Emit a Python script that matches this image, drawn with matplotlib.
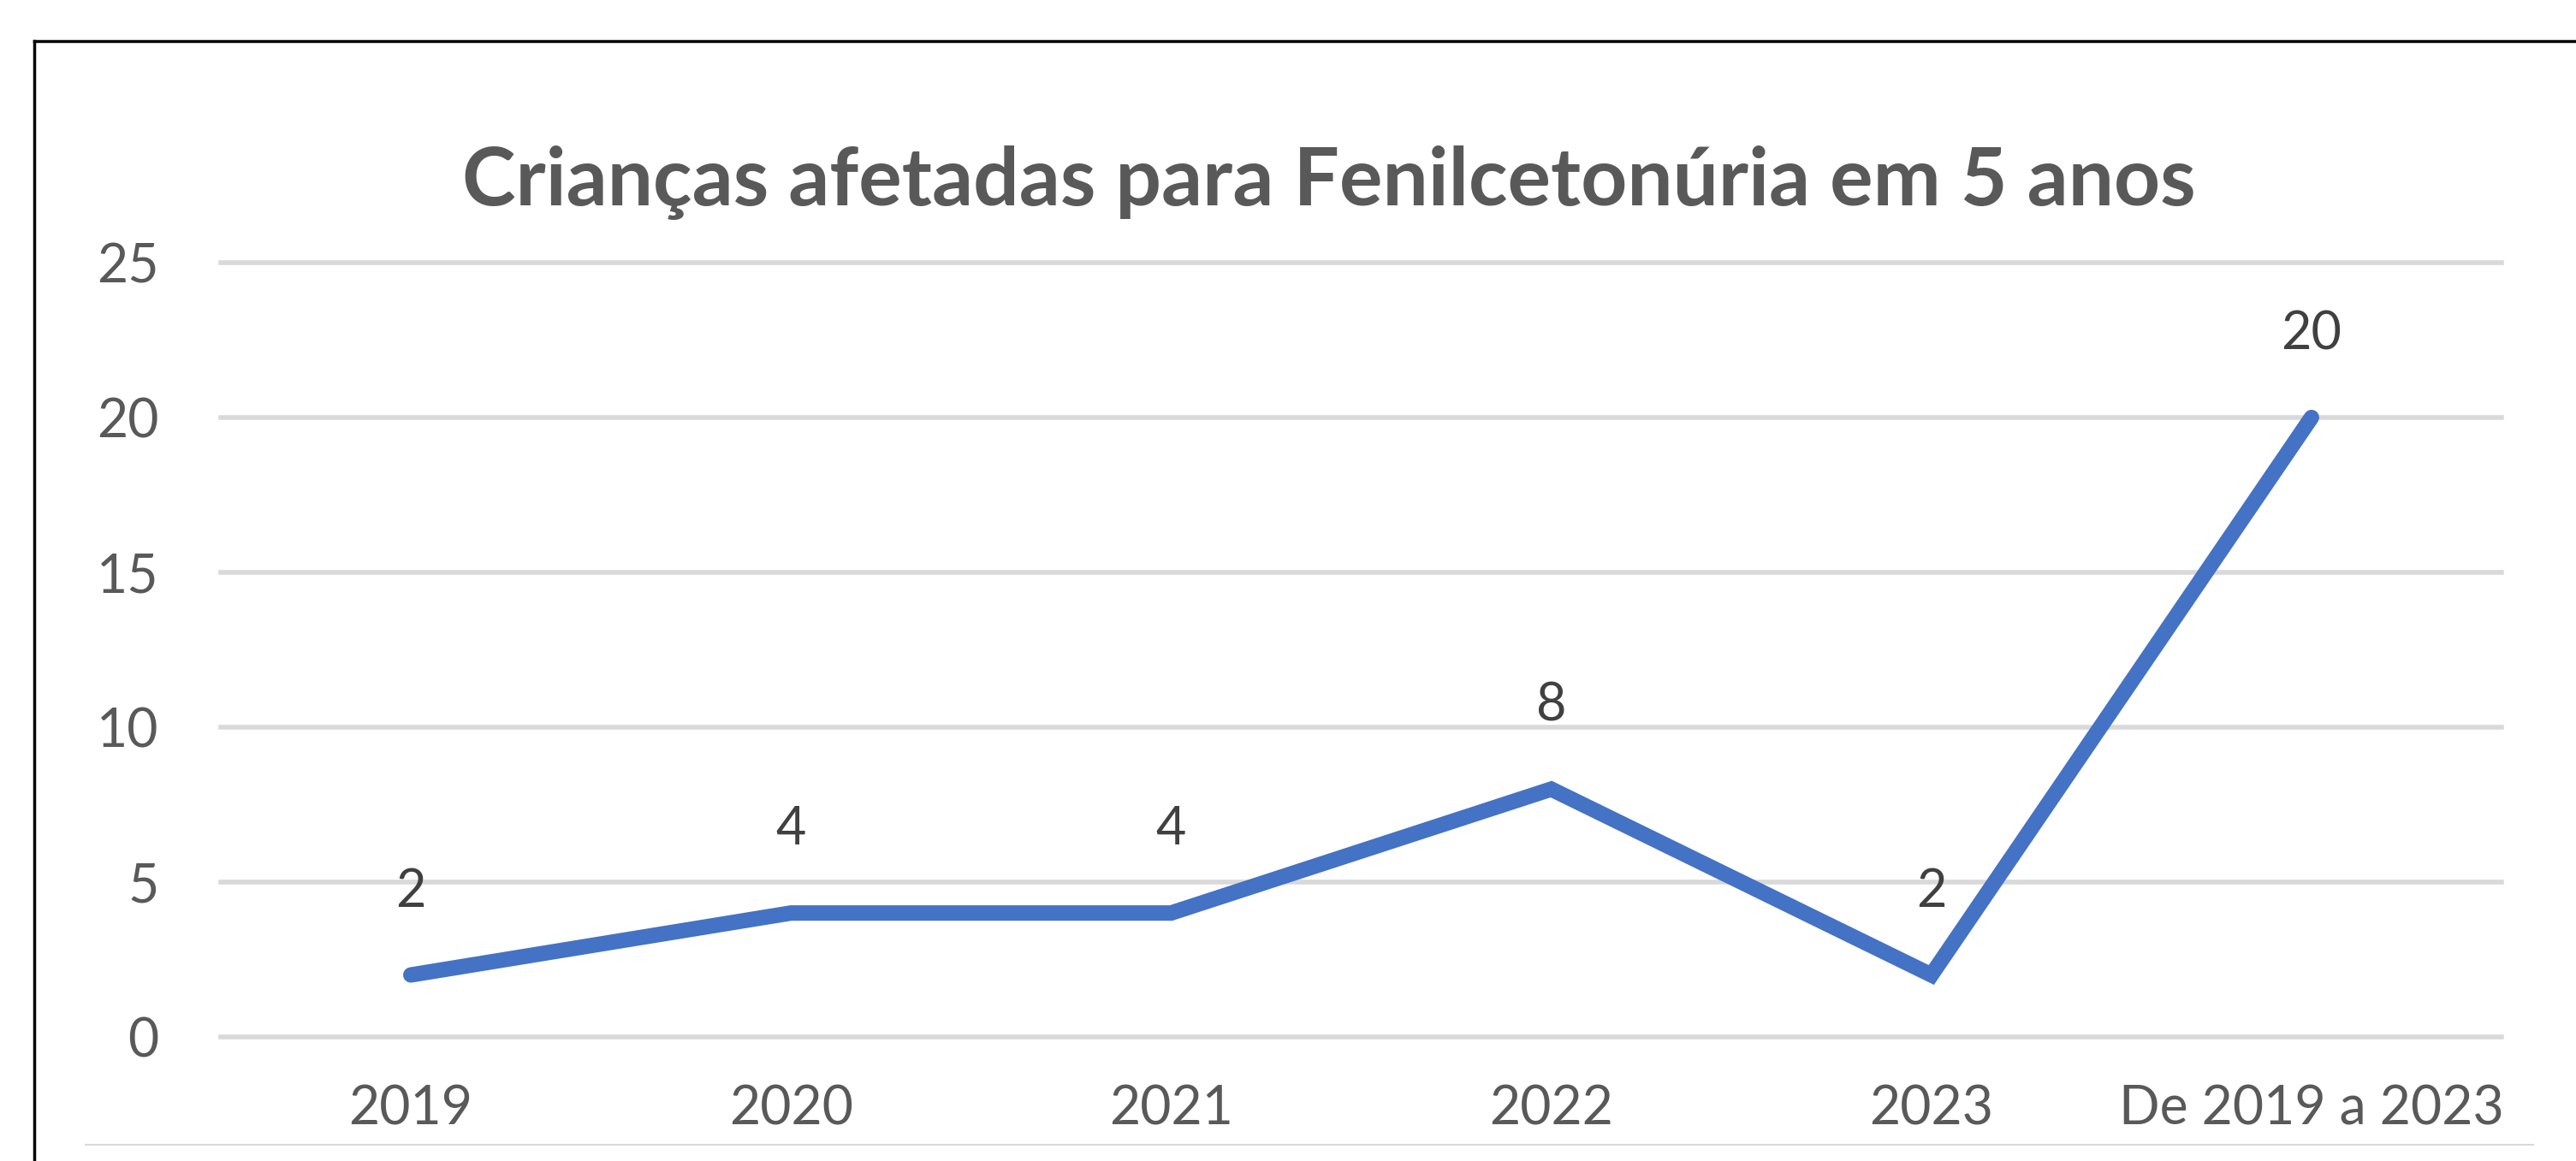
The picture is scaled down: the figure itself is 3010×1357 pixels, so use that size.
import matplotlib.pyplot as plt
from matplotlib.lines import Line2D

plt.rcParams['font.family'] = ['Lato', 'DejaVu Sans']

categorias = ['2019', '2020', '2021', '2022', '2023', 'De 2019 a 2023']
criancas = [2, 4, 4, 8, 2, 20]
y_ticks = [0, 5, 10, 15, 20, 25]

fig = plt.figure(figsize=(30.1, 13.57), dpi=100)
ax = fig.add_axes([0.0857, 0.1069, 0.9711 - 0.0857, 0.7738 - 0.1069])

x = list(range(len(categorias)))
ax.plot(x, criancas, color='#4472C4', linewidth=13,
        solid_capstyle='round', solid_joinstyle='miter', zorder=3)

for xi, v in zip(x, criancas):
    ax.annotate(str(v), (xi, v), xytext=(0, 70), textcoords='offset points',
                ha='center', va='center', fontsize=44, color='#404040')

ax.set_xlim(-0.5, len(categorias) - 0.5)
ax.set_ylim(0, 25)
ax.set_yticks(y_ticks)
ax.set_xticks(x)
ax.set_xticklabels(categorias)
for yt in y_ticks:
    ax.axhline(yt, color='#d9d9d9', linewidth=4, clip_on=False, zorder=1)

for s in ax.spines.values():
    s.set_visible(False)
ax.tick_params(axis='y', length=0, pad=52, labelsize=45, labelcolor='#595959')
ax.tick_params(axis='x', length=0, pad=40, labelsize=45, labelcolor='#595959')

fig.text(0.516, 1 - 240 / 1357, 'Crianças afetadas para Fenilcetonúria em 5 anos',
         ha='center', va='baseline', fontsize=68, fontweight='bold', color='#595959')

# moldura e linha inferior
W, H = 3010, 1357
fig.add_artist(Line2D([40 / W, 40 / W], [0, 1 - 48 / H], color='black', linewidth=2.5,
                      transform=fig.transFigure))
fig.add_artist(Line2D([40 / W, 1], [1 - 48 / H, 1 - 48 / H], color='black', linewidth=2.5,
                      transform=fig.transFigure))
fig.add_artist(Line2D([100 / W, 2960 / W], [1 - 1338 / H, 1 - 1338 / H], color='#d9d9d9',
                      linewidth=1.5, transform=fig.transFigure))

fig.savefig('out.png', dpi=100, facecolor='white')
